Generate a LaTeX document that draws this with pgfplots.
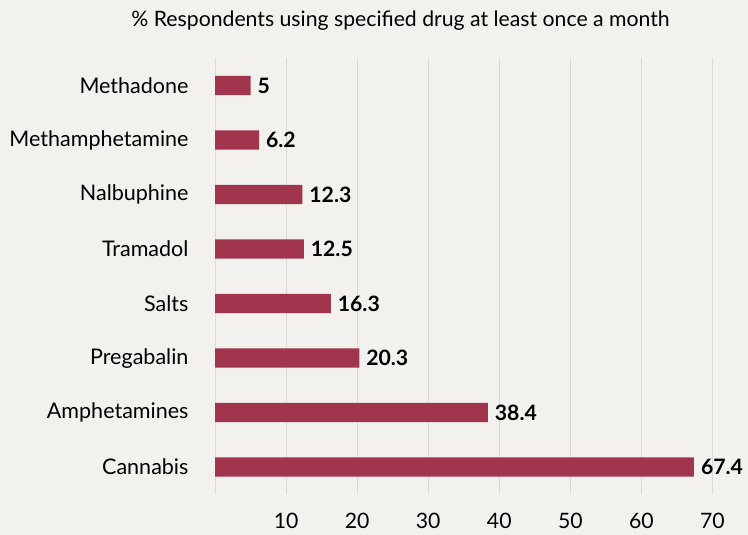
\documentclass[border=0pt]{standalone}
\usepackage{pgfplots}
\pgfplotsset{compat=1.18}
\usepackage{fontspec}
\setmainfont{Lato}
\definecolor{bg}{HTML}{F3F1ED}
\definecolor{barc}{HTML}{A1354E}
\definecolor{gridc}{HTML}{DCDAD6}
\begin{document}
\begin{tikzpicture}
\fill[bg] (0,0) rectangle (748bp,535bp);
\node[font=\fontsize{21.3}{24}\selectfont] at (400.5bp,514.5bp) {\% Respondents using specified drug at least once a month};
\begin{axis}[
    at={(215bp,40.7bp)}, anchor=south west,
    scale only axis,
    width=533bp, height=436bp,
    xbar, bar width=0.354,
    xmin=0, xmax=75,
    ymin=-0.5, ymax=7.5,
    axis line style={draw=none},
    major tick length=0pt,
    xtick={0,10,...,70},
    xticklabels={,10,20,30,40,50,60,70},
    ytick={0,...,7},
    yticklabels={Cannabis,Amphetamines,Pregabalin,Salts,Tramadol,Nalbuphine,Methamphetamine,Methadone},
    xmajorgrids, grid style={gridc, line width=1bp},
    tick label style={font=\fontsize{21.3}{24}\selectfont, text=black},
    /pgf/number format/assume math mode=true,
    xticklabel style={yshift=-15bp},
    yticklabel style={font=\fontsize{21.6}{24}\selectfont, xshift=-23bp},
    nodes near coords,
    every node near coord/.append style={font=\fontsize{21.3}{24}\selectfont\bfseries, text=black, anchor=west, xshift=3.5bp},
    point meta=explicit symbolic,
]
\addplot[fill=barc, draw=none] coordinates {
    (67.4,0) [67.4]
    (38.4,1) [38.4]
    (20.3,2) [20.3]
    (16.3,3) [16.3]
    (12.5,4) [12.5]
    (12.3,5) [12.3]
    (6.2,6) [6.2]
    (5,7) [5]
};
\end{axis}
\pgfresetboundingbox
\useasboundingbox (0,0) rectangle (748bp,535bp);
\end{tikzpicture}
\end{document}
